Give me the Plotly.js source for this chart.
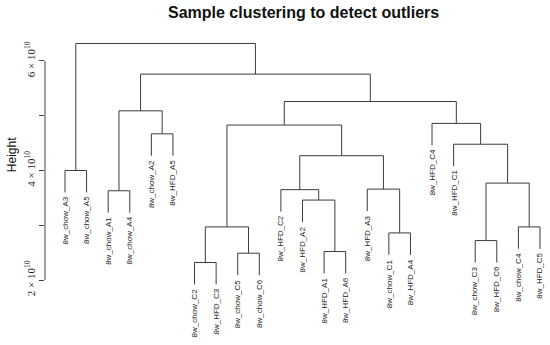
<!DOCTYPE html>
<html>
<head>
<meta charset="utf-8">
<script src="https://cdn.plot.ly/plotly-3.0.1.min.js"></script>
<style>html,body{margin:0;padding:0;background:#fff;}#chart{width:550px;height:345px;}</style>
</head>
<body>
<div id="chart"></div>
<script>
// Leaf labels, in dendrogram order (left to right)
var leafLabels = ["8w_chow_A3","8w_chow_A5","8w_chow_A1","8w_chow_A4","8w_chow_A2","8w_HFD_A5",
  "8w_chow_C2","8w_HFD_C3","8w_chow_C5","8w_chow_C6","8w_HFD_C2","8w_HFD_A2","8w_HFD_A1","8w_HFD_A6",
  "8w_HFD_A3","8w_chow_C1","8w_HFD_A4","8w_HFD_C4","8w_HFD_C1","8w_chow_C3","8w_HFD_C6","8w_chow_C4","8w_HFD_C5"];
// Merge table (hclust style): negative = leaf position (1-based), positive = earlier merge row (1-based)
var mergeLeft  = [-7, -9, -13, -20, -16, 1, -22, -12, -3, -11, -15, 4, -1, 10, -19, -5, 6, -18, 9, 17, 19, 13];
var mergeRight = [-8, -10, -14, -21, -17, 2, -23, 3, -4, 8, 5, 7, -2, 11, 12, -6, 14, 15, 16, 18, 20, 21];
// Merge heights
var mergeHeight = [2.32e10, 2.49e10, 2.52e10, 2.72e10, 2.86e10, 2.97e10, 2.97e10, 3.46e10, 3.63e10, 3.65e10,
  3.66e10, 3.77e10, 4.00e10, 4.27e10, 4.48e10, 4.67e10, 4.83e10, 4.86e10, 5.09e10, 5.26e10, 5.76e10, 6.32e10];
// Y axis ticks
var tickValues = [2e10, 4e10, 6e10];
var tickLabels = ["2 \u00d7 10<sup>10</sup>", "4 \u00d7 10<sup>10</sup>", "6 \u00d7 10<sup>10</sup>"];
var minorTickValues = [3e10, 5e10];

var hMin = Math.min.apply(null, mergeHeight), hMax = Math.max.apply(null, mergeHeight);
var hang = 0.1 * (hMax - hMin);

var nodeX = [], xs = [], ys = [];
var leafBottom = new Array(leafLabels.length);
function childInfo(c, parentH) {
  if (c < 0) {
    var i = -c;
    leafBottom[i - 1] = parentH - hang;
    return {x: i, y: parentH - hang};
  }
  return {x: nodeX[c - 1], y: mergeHeight[c - 1]};
}
for (var k = 0; k < mergeHeight.length; k++) {
  var h = mergeHeight[k];
  var a = childInfo(mergeLeft[k], h), b = childInfo(mergeRight[k], h);
  nodeX[k] = (a.x + b.x) / 2;
  xs.push(a.x, a.x, b.x, b.x, null);
  ys.push(a.y, h, h, b.y, null);
}

var annotations = leafLabels.map(function (lab, i) {
  return {x: i + 1, y: leafBottom[i], xref: 'x', yref: 'y', text: lab, showarrow: false,
    textangle: -90, xanchor: 'center', yanchor: 'top', yshift: -2,
    font: {family: 'Liberation Sans, Arial, sans-serif', size: 8, color: '#222'}};
});
annotations.push({x: -0.065, y: 0.537, xref: 'paper', yref: 'paper', text: 'Height', showarrow: false,
  textangle: -90, xanchor: 'center', yanchor: 'middle',
  font: {family: 'Liberation Sans, Arial, sans-serif', size: 12, color: '#111'}});

var trace = {x: xs, y: ys, mode: 'lines', type: 'scatter', hoverinfo: 'skip',
  line: {color: '#3c3c3c', width: 1}, connectgaps: false};

var layout = {
  width: 550, height: 345,
  margin: {l: 45, r: 0, t: 30, b: 45},
  paper_bgcolor: '#fff', plot_bgcolor: '#fff',
  showlegend: false,
  title: {text: '<b>Sample clustering to detect outliers</b>', x: 0.552, xref: 'container', y: 0.965, yanchor: 'middle',
    font: {family: 'Liberation Sans, Arial, sans-serif', size: 16, color: '#111'}},
  xaxis: {range: [0.0736, 23.464], showgrid: false, zeroline: false, showline: false, showticklabels: false, ticks: ''},
  yaxis: {range: [1.635e10, 6.566e10], showgrid: false, zeroline: false, showline: false,
    tickmode: 'array', tickvals: tickValues, ticktext: tickLabels, ticks: 'outside', ticklen: 5, tickcolor: '#444',
    tickangle: -90, tickfont: {family: 'Liberation Serif, Times New Roman, serif', size: 11, color: '#222'},
    minor: {tickmode: 'array', tickvals: minorTickValues, ticks: 'outside', ticklen: 5, tickcolor: '#444', showgrid: false}},
  shapes: [{type: 'line', xref: 'paper', yref: 'y', x0: 0, x1: 0, y0: 2e10, y1: 6e10,
    line: {color: '#444', width: 1}}],
  annotations: annotations
};
Plotly.newPlot('chart', [trace], layout, {staticPlot: true, displayModeBar: false});
</script>
</body>
</html>
